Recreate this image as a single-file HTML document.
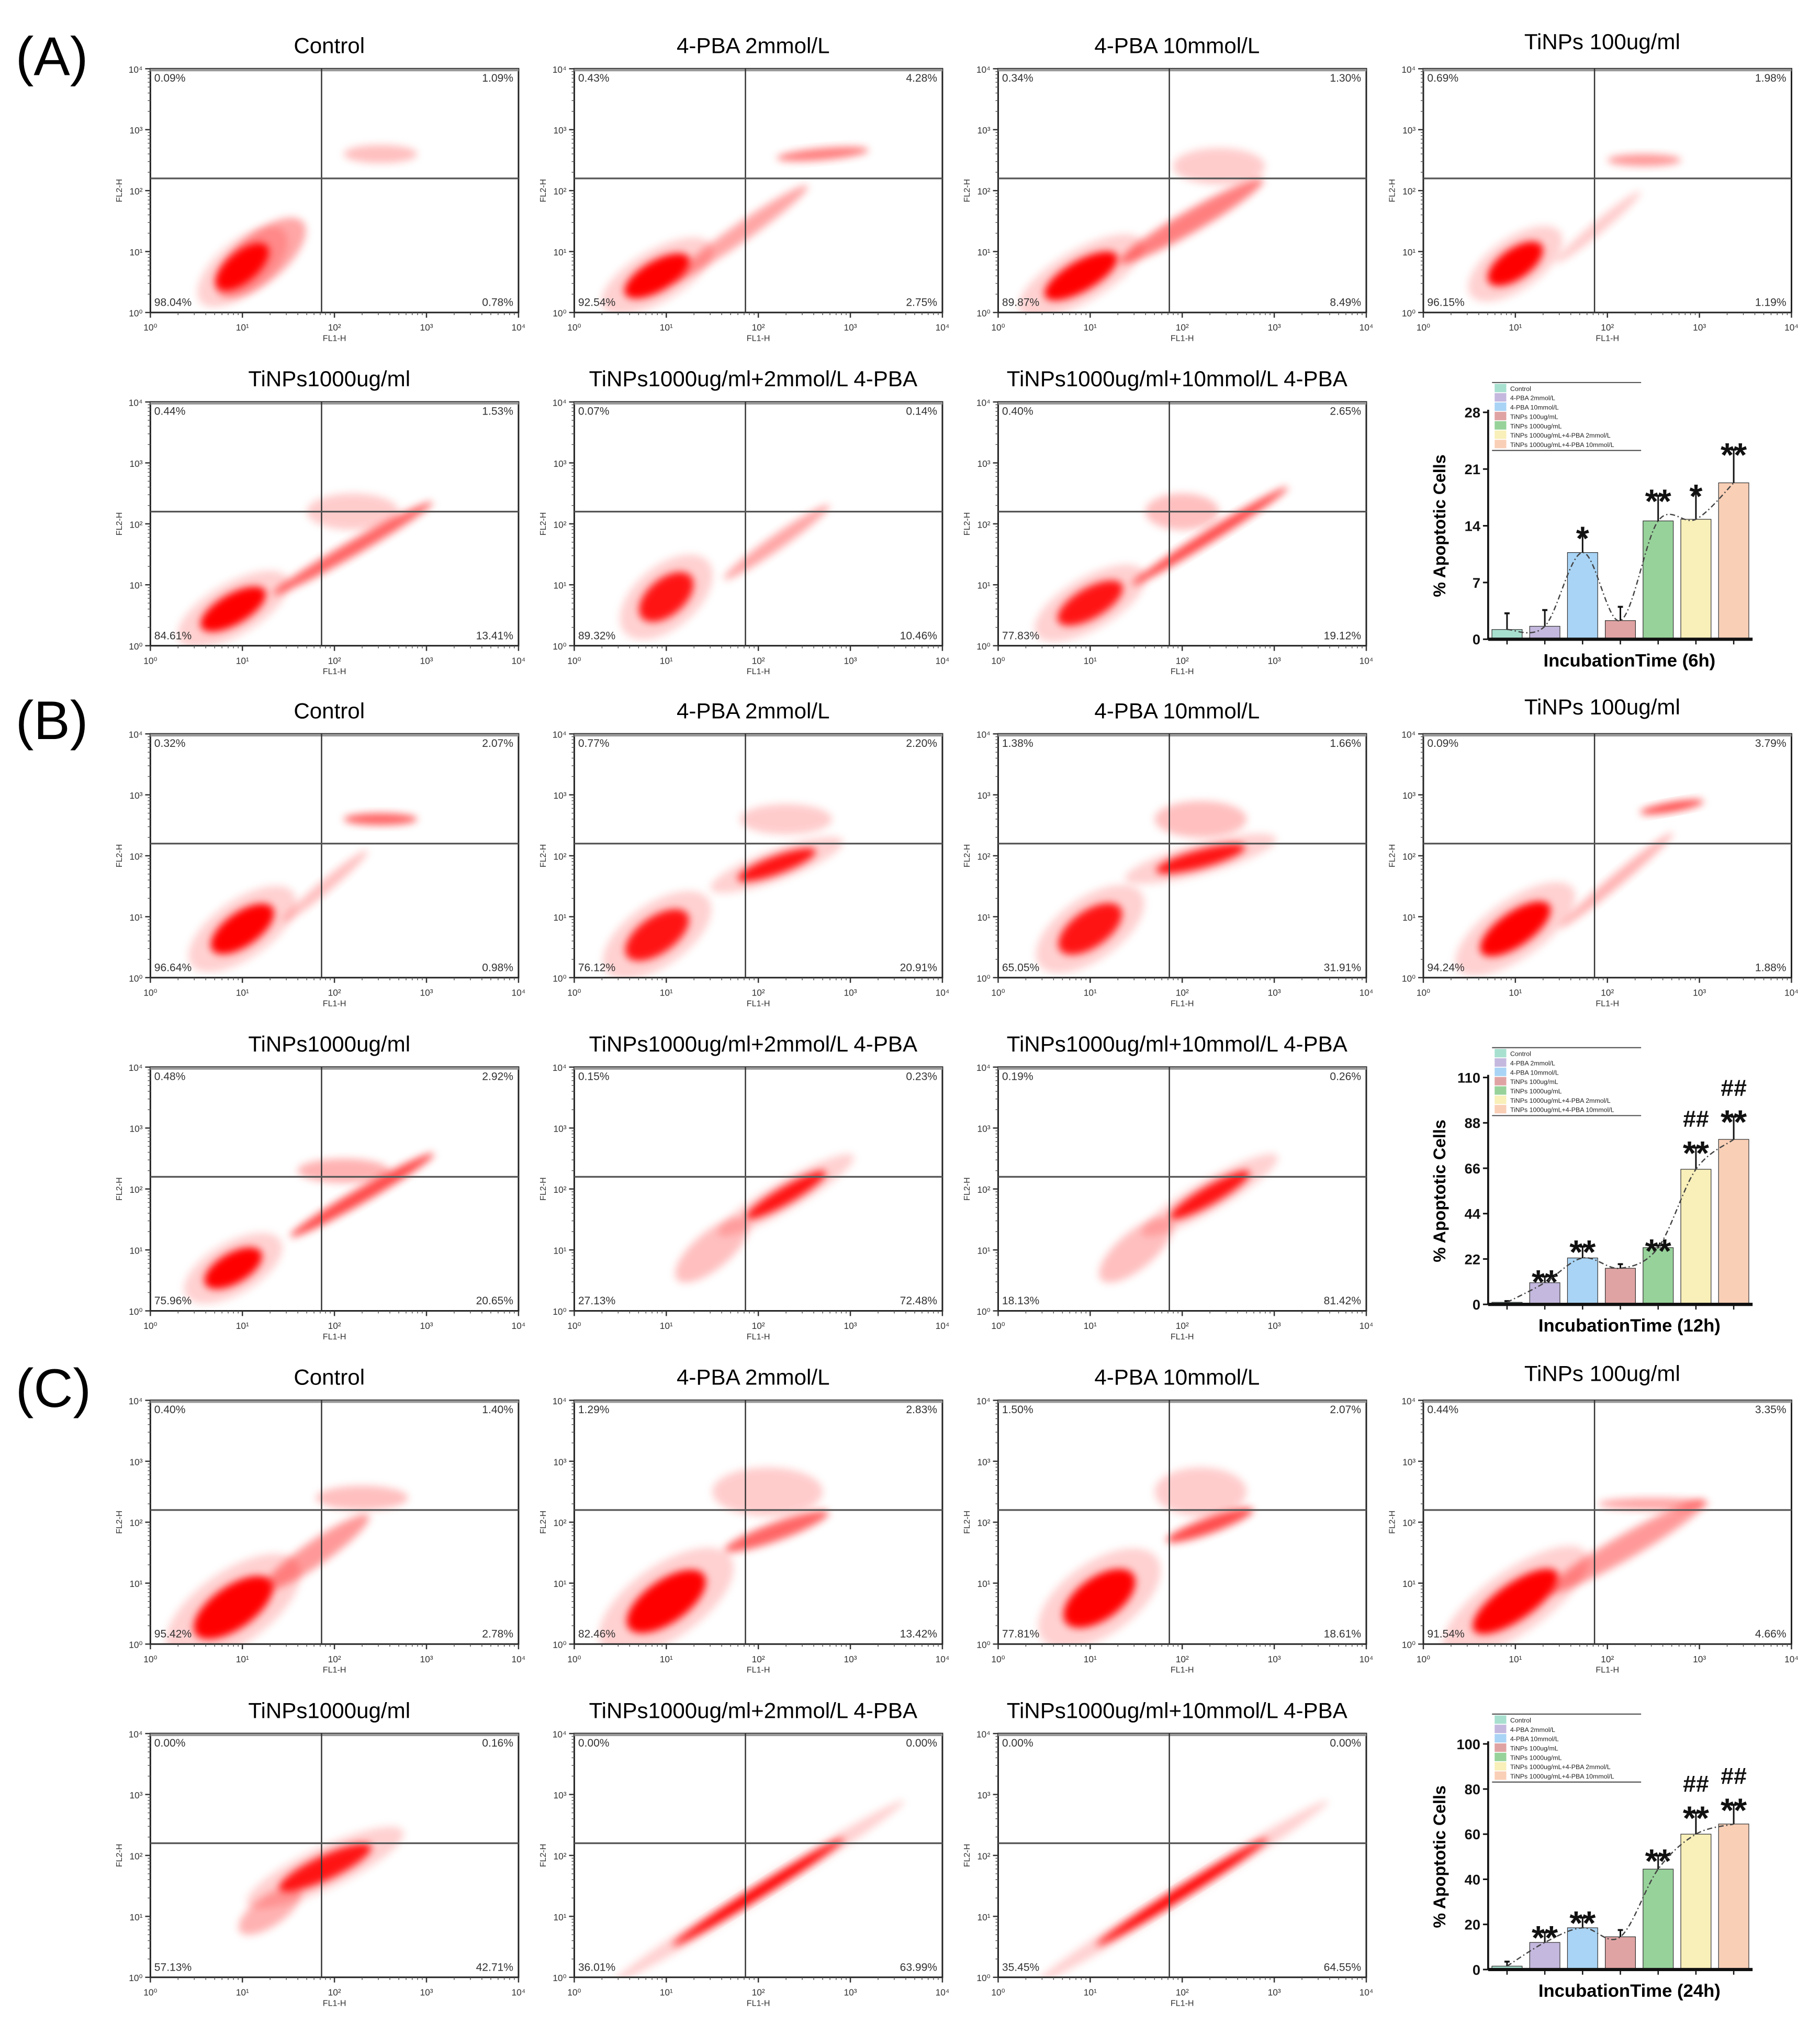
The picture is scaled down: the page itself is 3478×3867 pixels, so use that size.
<!DOCTYPE html>
<html><head><meta charset="utf-8">
<style>
html,body{margin:0;padding:0;background:#fff;}
svg{display:block;font-family:"Liberation Sans",Arial,sans-serif;}
</style></head>
<body>
<svg id="fig" width="3478" height="3867" viewBox="0 0 1404 1561" xmlns="http://www.w3.org/2000/svg">
<defs>
<filter id="soft" x="-50%" y="-50%" width="200%" height="200%"><feGaussianBlur stdDeviation="3"/></filter>
</defs>
<text x="12" y="58" font-size="42">(A)</text>
<text x="12" y="570" font-size="42">(B)</text>
<text x="12" y="1085" font-size="42">(C)</text>
<g id="plots"></g>
</svg>
<script>
const NS="http://www.w3.org/2000/svg";
const root=document.getElementById('plots');
function el(tag,attrs,parent,txt){const e=document.createElementNS(NS,tag);for(const k in attrs)e.setAttribute(k,attrs[k]);if(txt!==undefined)e.textContent=txt;(parent||root).appendChild(e);return e;}

// ---------- flow cytometry panel data ----------
const panelTitles=["Control","4-PBA 2mmol/L","4-PBA 10mmol/L","TiNPs 100ug/ml","TiNPs1000ug/ml","TiNPs1000ug/ml+2mmol/L 4-PBA","TiNPs1000ug/ml+10mmol/L 4-PBA"];
// quadrant percentages [UL, UR, LL, LR]
const pctA=[["0.09%","1.09%","98.04%","0.78%"],["0.43%","4.28%","92.54%","2.75%"],["0.34%","1.30%","89.87%","8.49%"],["0.69%","1.98%","96.15%","1.19%"],["0.44%","1.53%","84.61%","13.41%"],["0.07%","0.14%","89.32%","10.46%"],["0.40%","2.65%","77.83%","19.12%"]];
const pctB=[["0.32%","2.07%","96.64%","0.98%"],["0.77%","2.20%","76.12%","20.91%"],["1.38%","1.66%","65.05%","31.91%"],["0.09%","3.79%","94.24%","1.88%"],["0.48%","2.92%","75.96%","20.65%"],["0.15%","0.23%","27.13%","72.48%"],["0.19%","0.26%","18.13%","81.42%"]];
const pctC=[["0.40%","1.40%","95.42%","2.78%"],["1.29%","2.83%","82.46%","13.42%"],["1.50%","2.07%","77.81%","18.61%"],["0.44%","3.35%","91.54%","4.66%"],["0.00%","0.16%","57.13%","42.71%"],["0.00%","0.00%","36.01%","63.99%"],["0.00%","0.00%","35.45%","64.55%"]];
// population blobs: [log FL1, log FL2, spreadX, spreadY, angleDeg, density]
const blobsA=[
 [[1.0,0.75,.35,.25,-40,1],[1.2,0.9,.6,.4,-40,.35],[2.5,2.6,.4,.15,0,.25]],
 [[0.9,0.6,.4,.25,-30,1],[1.8,1.3,.9,.15,-35,.35],[2.7,2.6,.5,.1,-5,.5]],
 [[0.9,0.6,.45,.25,-30,1],[2.1,1.5,.9,.18,-30,.5],[2.4,2.4,.5,.3,0,.2]],
 [[1.0,0.8,.35,.25,-35,1],[2.4,2.5,.4,.1,0,.4],[1.9,1.4,.6,.1,-40,.2]],
 [[0.9,0.6,.4,.25,-30,1],[2.2,1.6,1.0,.12,-30,.6],[2.2,2.2,.5,.3,0,.2]],
 [[1.0,0.8,.35,.3,-40,.9],[2.2,1.7,.7,.12,-35,.35]],
 [[1.0,0.7,.4,.25,-30,.9],[2.3,1.8,1.0,.1,-32,.7],[2.0,2.2,.4,.3,0,.25]]];
const blobsB=[
 [[1.0,0.8,.4,.28,-35,1],[2.5,2.6,.4,.1,0,.6],[1.9,1.5,.6,.1,-40,.25]],
 [[0.9,0.7,.4,.3,-35,.9],[2.2,1.85,.45,.15,-20,.9],[2.3,2.6,.5,.25,0,.2]],
 [[1.0,0.8,.4,.3,-35,.9],[2.2,1.95,.5,.15,-15,.9],[2.2,2.6,.5,.3,0,.25]],
 [[1.0,0.8,.45,.28,-35,1],[2.7,2.8,.35,.08,-10,.7],[2.1,1.6,.8,.1,-40,.3]],
 [[0.9,0.7,.35,.25,-30,1],[2.3,1.9,.9,.12,-30,.7],[2.1,2.3,.5,.2,0,.3]],
 [[2.3,1.9,.5,.14,-30,.9],[1.5,1.0,.5,.3,-40,.25]],
 [[2.3,1.9,.5,.15,-30,.9],[1.5,1.0,.5,.3,-40,.25]]];
const blobsC=[
 [[0.9,0.6,.5,.35,-35,1],[1.8,1.5,.7,.2,-35,.4],[2.3,2.4,.5,.2,0,.25]],
 [[1.0,0.7,.5,.35,-35,1],[2.2,1.85,.6,.15,-20,.6],[2.1,2.5,.6,.4,0,.2]],
 [[1.1,0.75,.45,.35,-35,1],[2.3,1.95,.5,.13,-20,.7],[2.2,2.5,.5,.4,0,.2]],
 [[1.0,0.7,.55,.3,-35,1],[2.2,1.6,1.0,.2,-30,.4],[2.5,2.3,.6,.1,0,.35]],
 [[1.9,1.8,.55,.2,-25,.9],[1.3,1.1,.4,.25,-35,.3]],
 [[2.0,1.4,1.1,.09,-32,1]],
 [[2.0,1.4,1.1,.09,-32,1]]];
const gateX=1.86, gateY=2.2;
const axisTicks=["0","1","2","3","4"];

const colX=[116,443,770,1098], PW=284, PH=188;
const rowTop=[53,310,566,823,1080,1337];

function drawFlow(sec,idx,pct,blobs){
  const r=sec*2+(idx<4?0:1), c=idx<4?idx:idx-4;
  const x0=colX[c], y0=rowTop[r];
  const sx=v=>x0+v/4*PW, sy=v=>y0+PH-v/4*PH;
  const g=el('g',{});
  
  
  const t=el('text',{x:x0+PW/2-4,y:y0-(c===3?15:12),'font-size':17,'text-anchor':'middle'},g,panelTitles[idx]);
  
  
  const cl=el('clipPath',{id:'cp'+sec+'_'+idx},g);
  el('rect',{x:x0,y:y0,width:PW,height:PH},cl);
  const bg=el('g',{'clip-path':'url(#cp'+sec+'_'+idx+')'},g);
  blobs.forEach(b=>{
    const cx=sx(b[0]), cy=sy(b[1]), rx=b[2]/4*PW, ry=b[3]/4*PH;
    const e=el('ellipse',{cx:cx,cy:cy,rx:rx,ry:ry,fill:'#f00','fill-opacity':b[5],filter:'url(#soft)',transform:`rotate(${b[4]} ${cx} ${cy})`},bg);
    
    
    if(b[5]>=0.9){el('ellipse',{cx:cx,cy:cy,rx:rx*1.7,ry:ry*1.7,fill:'#f00','fill-opacity':0.18,filter:'url(#soft)',transform:`rotate(${b[4]} ${cx} ${cy})`},bg);}
  });
  const box=el('rect',{x:x0,y:y0,width:PW,height:PH,fill:'none',stroke:'#222','stroke-width':1.2},g);
  
  
  el('line',{x1:x0,x2:x0+PW,y1:y0+1,y2:y0+1,stroke:'#999','stroke-width':2},g);
  el('line',{x1:sx(gateX),x2:sx(gateX),y1:y0,y2:y0+PH,stroke:'#333','stroke-width':1},g);
  el('line',{x1:x0,x2:x0+PW,y1:sy(gateY),y2:sy(gateY),stroke:'#555','stroke-width':1.3},g);
  axisTicks.forEach((tk,i)=>{
    const v=+tk;
    el('line',{x1:sx(v),x2:sx(v),y1:y0+PH,y2:y0+PH+4,stroke:'#333'},g);
    el('text',{x:sx(v),y:y0+PH+14,'font-size':7,'text-anchor':'middle',fill:'#333'},g,'10'+['⁰','¹','²','³','⁴'][i]);
    el('line',{x1:x0-4,x2:x0,y1:sy(v),y2:sy(v),stroke:'#333'},g);
    el('text',{x:x0-6,y:sy(v)+3,'font-size':7,'text-anchor':'end',fill:'#333'},g,'10'+['⁰','¹','²','³','⁴'][i]);
    if(i<4)for(let m=2;m<10;m++){const lv=v+Math.log10(m);
      el('line',{x1:sx(lv),x2:sx(lv),y1:y0+PH,y2:y0+PH+2,stroke:'#555','stroke-width':.6},g);
      el('line',{x1:x0-2,x2:x0,y1:sy(lv),y2:sy(lv),stroke:'#555','stroke-width':.6},g);}
  });
  el('text',{x:sx(2),y:y0+PH+22,'font-size':6.5,'text-anchor':'middle',fill:'#333'},g,'FL1-H');
  el('text',{x:x0-22,y:sy(2),'font-size':6.5,'text-anchor':'middle',fill:'#333',transform:`rotate(-90 ${x0-22} ${sy(2)})`},g,'FL2-H');
  const fs=8.5;
  el('text',{x:x0+3,y:y0+10,'font-size':fs,fill:'#333'},g,pct[0]);
  el('text',{x:x0+PW-4,y:y0+10,'font-size':fs,fill:'#333','text-anchor':'end'},g,pct[1]);
  el('text',{x:x0+3,y:y0+PH-5,'font-size':fs,fill:'#333'},g,pct[2]);
  el('text',{x:x0+PW-4,y:y0+PH-5,'font-size':fs,fill:'#333','text-anchor':'end'},g,pct[3]);
}
[pctA,pctB,pctC].forEach((p,s)=>{const bl=[blobsA,blobsB,blobsC][s];for(let i=0;i<7;i++)drawFlow(s,i,p[i],bl[i]);});

// ---------- bar chart data ----------
const groups=["Control","4-PBA 2mmol/L","4-PBA 10mmol/L","TiNPs 100ug/mL","TiNPs 1000ug/mL","TiNPs 1000ug/mL+4-PBA 2mmol/L","TiNPs 1000ug/mL+4-PBA 10mmol/L"];
const barColors=["#a8e0cf","#c4b8de","#a9d4f5","#e0a3a3","#97d29a","#f8efb9","#f9cfb6"];
const values6h=[1.2,1.6,10.7,2.3,14.6,14.8,19.3];
const errTop6h=[3.2,3.6,13.1,4.0,17.7,18.3,23.4];
const sig6h=["","","*","","**","*","**"];
const ticks6h=[0,7,14,21,28];
const values12h=[1.0,10.5,22.5,17.5,27.5,65.5,80];
const errTop12h=[1.6,13.5,28,19.5,28.5,76,91];
const sig12h=["","**","**","","**","##|**","##|**"];
const ticks12h=[0,22,44,66,88,110];
const values24h=[1.5,12,18.5,14.5,44.5,60,64.5];
const errTop24h=[3.5,16.5,23,17.5,50.5,69.5,73];
const sig24h=["","**","**","","**","##|**","##|**"];
const ticks24h=[0,20,40,60,80,100];

function drawBar(name,y0,yTop,ticks,vals,errs,sig,label){
  const g=el('g',{});
  
  
  const L=1148,R=1352,max=ticks[ticks.length-1];
  const sy=v=>y0-v/max*(y0-yTop);
  const step=(R-L)/7, bw=step*0.8;
  const bx=i=>L+step*(i+0.5);
  groups.forEach((gname,i)=>{
    const ly=yTop-22+i*7.2;
    const r=el('rect',{x:1153,y:ly,width:9,height:6.5,fill:barColors[i]},g);
    
    
    const t=el('text',{x:1165,y:ly+5.5,'font-size':5,fill:'#222'},g,gname);
    
    
  });
  el('line',{x1:1151,x2:1266,y1:yTop-23,y2:yTop-23,stroke:'#444','stroke-width':.8},g);
  el('line',{x1:1151,x2:1266,y1:yTop-22+7*7.2+1,y2:yTop-22+7*7.2+1,stroke:'#444','stroke-width':.8},g);
  vals.forEach((v,i)=>{
    const b=el('rect',{x:bx(i)-bw/2,y:sy(v),width:bw,height:y0-sy(v),fill:barColors[i],stroke:'#333','stroke-width':0.5},g);
    
    
    el('line',{x1:bx(i),x2:bx(i),y1:sy(v),y2:sy(errs[i]),stroke:'#111','stroke-width':1.2},g);
    el('line',{x1:bx(i)-2,x2:bx(i)+2,y1:sy(errs[i]),y2:sy(errs[i]),stroke:'#111','stroke-width':1.5},g);
    if(sig[i]){const parts=sig[i].split('|').reverse();
      parts.forEach((p,k)=>{
        const isStar=p.indexOf('*')>=0;
        const s=el('text',{x:bx(i),y:sy(errs[i])+(isStar?13:-2)-k*14,'font-size':isStar?26:18,'font-weight':'bold','text-anchor':'middle',fill:'#111'},g,p);
        
        });}
  });
  let d='M'+bx(0)+','+sy(vals[0]);
  for(let i=0;i<vals.length-1;i++){
    const p0=[bx(Math.max(0,i-1)),sy(vals[Math.max(0,i-1)])],p1=[bx(i),sy(vals[i])],p2=[bx(i+1),sy(vals[i+1])],p3=[bx(Math.min(6,i+2)),sy(vals[Math.min(6,i+2)])];
    d+=` C${p1[0]+(p2[0]-p0[0])/6},${p1[1]+(p2[1]-p0[1])/6} ${p2[0]-(p3[0]-p1[0])/6},${p2[1]-(p3[1]-p1[1])/6} ${p2[0]},${p2[1]}`;
  }
  const tl=el('path',{d:d,fill:'none',stroke:'#444','stroke-width':1,'stroke-dasharray':'4 2 1 2'},g);
  
  
  el('line',{x1:L,x2:L,y1:y0,y2:yTop-2,stroke:'#111','stroke-width':1.5},g);
  el('line',{x1:L,x2:R,y1:y0,y2:y0,stroke:'#111','stroke-width':2.5},g);
  ticks.forEach(t=>{
    el('line',{x1:L-4,x2:L,y1:sy(t),y2:sy(t),stroke:'#111','stroke-width':1.2},g);
    const tt=el('text',{x:L-6,y:sy(t)+4,'font-size':11,'font-weight':'bold','text-anchor':'end',fill:'#111'},g,t);
    
    
  });
  vals.forEach((v,i)=>el('line',{x1:bx(i),x2:bx(i),y1:y0,y2:y0+4,stroke:'#111'},g));
  const yl=el('text',{x:1115,y:(y0+yTop)/2,'font-size':13,'font-weight':'bold','text-anchor':'middle',transform:`rotate(-90 1115 ${(y0+yTop)/2})`},g,'% Apoptotic Cells');
  
  
  const xl=el('text',{x:1257,y:y0+21,'font-size':14,'font-weight':'bold','text-anchor':'middle'},g,label);
  
  
}
drawBar('bar-chart-6h',493,318,ticks6h,values6h,errTop6h,sig6h,'IncubationTime (6h)');
drawBar('bar-chart-12h',1006,831,ticks12h,values12h,errTop12h,sig12h,'IncubationTime (12h)');
drawBar('bar-chart-24h',1519,1345,ticks24h,values24h,errTop24h,sig24h,'IncubationTime (24h)');
</script>
</body></html>
